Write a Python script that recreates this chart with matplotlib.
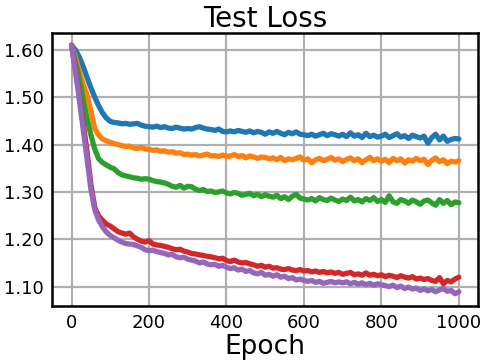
import numpy as np
import matplotlib
matplotlib.use("Agg")
import matplotlib.pyplot as plt

#==============================================================================
# Data (one value every 10 epochs)
#==============================================================================

epochs = list(range(0, 1001, 10))

blue = [1.610, 1.600, 1.585, 1.565, 1.542, 1.520, 1.500, 1.482, 1.467, 1.456,
        1.449, 1.447, 1.446, 1.444, 1.445, 1.443, 1.444, 1.445, 1.441, 1.439,
        1.438, 1.437, 1.439, 1.436, 1.438, 1.435, 1.434, 1.437, 1.435, 1.433,
        1.434, 1.433, 1.436, 1.438, 1.435, 1.433, 1.432, 1.430, 1.433, 1.428,
        1.427, 1.429, 1.427, 1.430, 1.428, 1.426, 1.429, 1.425, 1.428, 1.426,
        1.422, 1.427, 1.424, 1.428, 1.424, 1.421, 1.426, 1.423, 1.427, 1.422,
        1.421, 1.419, 1.422, 1.418, 1.421, 1.424, 1.419, 1.423, 1.421, 1.418,
        1.422, 1.417, 1.425, 1.418, 1.421, 1.415, 1.424, 1.417, 1.420, 1.416,
        1.418, 1.422, 1.415, 1.419, 1.423, 1.416, 1.419, 1.413, 1.420, 1.417,
        1.414, 1.418, 1.403, 1.415, 1.422, 1.410, 1.418, 1.407, 1.411, 1.413,
        1.412]

orange = [1.610, 1.585, 1.555, 1.528, 1.505, 1.470, 1.434, 1.420, 1.412, 1.408,
          1.405, 1.402, 1.400, 1.398, 1.396, 1.397, 1.393, 1.392, 1.394, 1.391,
          1.390, 1.388, 1.389, 1.386, 1.387, 1.384, 1.385, 1.382, 1.383, 1.379,
          1.380, 1.378, 1.379, 1.376, 1.378, 1.380, 1.376, 1.377, 1.375, 1.378,
          1.375, 1.376, 1.379, 1.375, 1.377, 1.372, 1.376, 1.374, 1.371, 1.374,
          1.373, 1.370, 1.372, 1.368, 1.373, 1.366, 1.370, 1.368, 1.371, 1.374,
          1.367, 1.370, 1.362, 1.368, 1.371, 1.366, 1.369, 1.373, 1.367, 1.370,
          1.364, 1.369, 1.372, 1.366, 1.370, 1.362, 1.368, 1.373, 1.366, 1.370,
          1.365, 1.369, 1.362, 1.371, 1.366, 1.370, 1.361, 1.368, 1.365, 1.371,
          1.366, 1.369, 1.358, 1.367, 1.372, 1.364, 1.368, 1.360, 1.365, 1.363,
          1.366]

green = [1.610, 1.575, 1.540, 1.495, 1.455, 1.420, 1.390, 1.370, 1.362, 1.357,
         1.352, 1.349, 1.341, 1.336, 1.334, 1.332, 1.330, 1.329, 1.327, 1.328,
         1.327, 1.324, 1.322, 1.321, 1.319, 1.316, 1.312, 1.310, 1.314, 1.308,
         1.312, 1.311, 1.306, 1.303, 1.305, 1.301, 1.302, 1.299, 1.300, 1.302,
         1.298, 1.296, 1.299, 1.297, 1.293, 1.295, 1.297, 1.292, 1.295, 1.290,
         1.294, 1.291, 1.289, 1.293, 1.286, 1.290, 1.284, 1.291, 1.295, 1.287,
         1.285, 1.283, 1.286, 1.281, 1.288, 1.284, 1.282, 1.287, 1.283, 1.280,
         1.285, 1.282, 1.289, 1.281, 1.284, 1.279, 1.286, 1.282, 1.288, 1.280,
         1.284, 1.278, 1.292, 1.279, 1.276, 1.284, 1.281, 1.276, 1.283, 1.279,
         1.274, 1.281, 1.283, 1.277, 1.272, 1.284, 1.276, 1.282, 1.273, 1.279,
         1.277]

red = [1.610, 1.560, 1.505, 1.445, 1.385, 1.315, 1.267, 1.249, 1.240, 1.232,
       1.228, 1.222, 1.216, 1.213, 1.211, 1.213, 1.205, 1.200, 1.196, 1.194,
       1.197, 1.190, 1.188, 1.187, 1.185, 1.183, 1.180, 1.178, 1.179, 1.175,
       1.173, 1.170, 1.169, 1.167, 1.166, 1.164, 1.163, 1.161, 1.159, 1.160,
       1.155, 1.153, 1.156, 1.152, 1.150, 1.151, 1.148, 1.146, 1.143, 1.145,
       1.141, 1.143, 1.139, 1.140, 1.137, 1.136, 1.138, 1.135, 1.134, 1.136,
       1.133, 1.134, 1.131, 1.133, 1.130, 1.132, 1.129, 1.131, 1.128, 1.130,
       1.126, 1.128, 1.130, 1.125, 1.127, 1.124, 1.129, 1.124, 1.126, 1.123,
       1.125, 1.121, 1.124, 1.122, 1.119, 1.123, 1.120, 1.118, 1.121, 1.116,
       1.118, 1.115, 1.117, 1.113, 1.111, 1.119, 1.106, 1.113, 1.110, 1.116,
       1.120]

purple = [1.610, 1.555, 1.495, 1.432, 1.370, 1.305, 1.262, 1.240, 1.226, 1.215,
          1.208, 1.203, 1.198, 1.194, 1.191, 1.190, 1.189, 1.186, 1.183, 1.178,
          1.176, 1.177, 1.174, 1.172, 1.170, 1.167, 1.168, 1.163, 1.161, 1.162,
          1.158, 1.156, 1.154, 1.150, 1.152, 1.148, 1.146, 1.147, 1.143, 1.145,
          1.141, 1.138, 1.140, 1.135, 1.137, 1.132, 1.134, 1.129, 1.127, 1.130,
          1.124, 1.126, 1.122, 1.125, 1.120, 1.122, 1.117, 1.119, 1.114, 1.116,
          1.113, 1.111, 1.113, 1.109, 1.111, 1.107, 1.109, 1.111, 1.108, 1.110,
          1.108, 1.110, 1.106, 1.109, 1.105, 1.108, 1.104, 1.107, 1.103, 1.106,
          1.104, 1.102, 1.100, 1.103, 1.098, 1.101, 1.096, 1.099, 1.095, 1.097,
          1.092, 1.095, 1.091, 1.094, 1.089, 1.093, 1.096, 1.090, 1.092, 1.085,
          1.089]

series = [blue, orange, green, red, purple]
colors = ["tab:blue", "tab:orange", "tab:green", "tab:red", "tab:purple"]

yticks = [1.10, 1.20, 1.30, 1.40, 1.50, 1.60]

#==============================================================================
# Plot
#==============================================================================

fig = plt.figure(figsize=(4.88, 3.61), dpi=100)
ax = fig.add_axes([0.107, 0.152, 0.873, 0.757])

for values, color in zip(series, colors):
    ax.plot(epochs, values, color=color, linewidth=3.8, solid_capstyle="round")

ax.set_yticks(yticks)
ax.set_yticklabels(["%.2f" % t for t in yticks])
ax.set_xticks([0, 200, 400, 600, 800, 1000])
ax.grid(True, color="#b0b0b0", linewidth=1.6)
ax.set_axisbelow(True)
ax.tick_params(length=0, labelsize=13, pad=6)
for spine in ax.spines.values():
    spine.set_linewidth(1.8)

ax.set_title("Test Loss", fontsize=20, pad=4)
ax.set_xlabel("Epoch", fontsize=19, labelpad=1)

fig.savefig("out.png", dpi=100)
